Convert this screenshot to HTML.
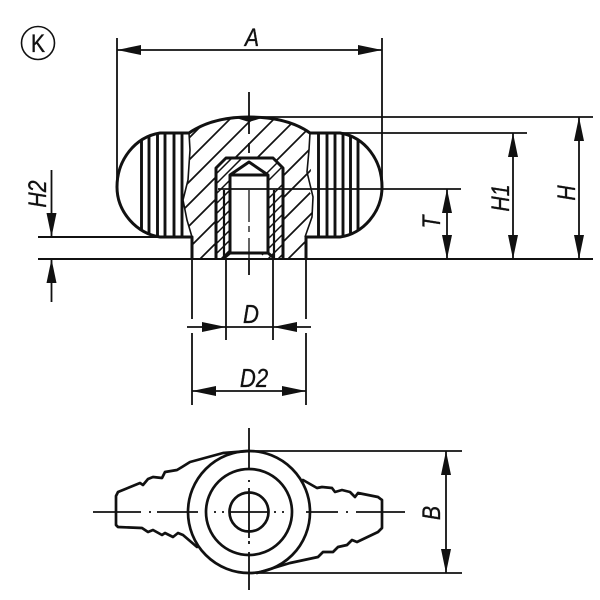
<!DOCTYPE html>
<html><head><meta charset="utf-8"><style>
html,body{margin:0;padding:0;background:#fff;width:600px;height:600px;overflow:hidden}
svg{display:block}
text{font-family:"Liberation Sans",sans-serif;font-style:italic;fill:#111;stroke:#111;stroke-width:.35}
</style></head><body>
<svg width="600" height="600" viewBox="0 0 600 600" xmlns="http://www.w3.org/2000/svg">
<defs>
<marker id="a" viewBox="0 0 24 10" refX="24" refY="5" markerWidth="24" markerHeight="10" markerUnits="userSpaceOnUse" orient="auto-start-reverse"><path d="M24 5L0 0V10Z" fill="#111"/></marker>
<clipPath id="body"><path d="M189 133C205 122 225 117 249 117C273 117 295 122 310 133L309 150L311 170L307 188L313 197L313 217L305 237V259H192V237L187 220L183 200L188 180L190 150Z M216 168V258H283V168L273 158H226Z" clip-rule="evenodd"/></clipPath>
<clipPath id="lobes"><path d="M189 133H160C135 137 117 160 117 187C117 212 137 234 160 237H192L183 200L190 150Z"/><path d="M310 133H340C365 137 382 160 382 187C382 212 363 234 340 237H305L313 197L309 150Z"/></clipPath>
<clipPath id="insert"><path d="M216 168L226 158H273L283 168V258H216Z M230 175V253H268V175L249 162Z" clip-rule="evenodd"/></clipPath>
</defs>

<!-- K mark -->
<circle cx="38" cy="43" r="16.5" fill="none" stroke="#111" stroke-width="1.6"/>
<text transform="translate(38 52) scale(.85 1)" text-anchor="middle" font-size="25" style="font-style:normal">K</text>

<!-- hatching body -->
<g clip-path="url(#body)" stroke="#111" stroke-width="1.700">
<path d="M130 175L210 95M130 197L232 95M130 219L254 95M130 241L276 95M130 263L298 95M143 272L320 95M165 272L342 95M187 272L364 95M209 272L386 95M231 272L400 103M253 272L400 125M275 272L400 147M297 272L400 169"/>
</g>
<!-- hatching insert -->
<g clip-path="url(#insert)" stroke="#111" stroke-width="1.500">
<path d="M205 175L225 155M205 185L235 155M205 195L245 155M255 185L285 155M262 187L292 157M205 205L230 180M205 215L230 190M205 225L230 200M205 235L230 210M205 245L230 220M205 255L230 230M205 265L230 240M205 275L230 250M262 205L290 177M262 215L290 187M262 225L290 197M262 235L290 207M262 245L290 217M262 255L290 227M262 265L290 237M262 275L290 247"/>
</g>
<!-- knurl -->
<g clip-path="url(#lobes)" stroke="#111" stroke-width="2.900">
<path d="M141.500 125V245M149 125V245M157.500 125V245M165 125V245M174 125V245M182 125V245M318.500 125V245M327 125V245M335 125V245M343 125V245M350.500 125V245M358 125V245"/>
</g>

<!-- outline -->
<g fill="none" stroke="#111" stroke-width="3" stroke-linejoin="round">
<path d="M192 259V237H160C137 234 117 212 117 187C117 160 135 137 160 133H189C205 122 225 117 249 117C273 117 295 122 310 133H340C365 137 382 160 382 187C382 212 363 234 340 237H306V259"/>
<path d="M216 258V168L226 158H273L283 168V258"/>
<path d="M230 253V175L249 162L268 175V253M224 258L230 253H268L274 258"/>
<path d="M230 175H268"/>
<path d="M224 258V190M274 258V190" stroke-width="2.200"/>
</g>
<g fill="none" stroke="#111" stroke-width="1.600">
<path d="M189 133L190 150L188 180L183 200L187 220L192 237"/>
<path d="M310 133L309 150L307 172L313 197L312 217L305 237"/>
</g>
<path d="M236 118H262L249 122Z" fill="#111"/>

<!-- dimension + extension lines -->
<g fill="none" stroke="#111" stroke-width="1.800">
<path d="M117 38V187M382 38V187"/>
<path d="M117 50H382" marker-start="url(#a)" marker-end="url(#a)"/>
<path d="M249 92V134M249 143V153M249 260V275"/>
<path d="M249 190V222M249 226V232M249 238V259" stroke-width="1.300"/>
<path d="M249 117H593M340 133H527M218 189H461"/>
<path d="M38 237H192M38 259H593" stroke-width="2"/>
<path d="M579 117V259" marker-start="url(#a)" marker-end="url(#a)"/>
<path d="M513 133V259" marker-start="url(#a)" marker-end="url(#a)"/>
<path d="M447 189V259" marker-start="url(#a)" marker-end="url(#a)"/>
<path d="M51.500 170V237" marker-end="url(#a)"/>
<path d="M51.500 259V302" marker-start="url(#a)"/>
<path d="M192 259V319M192 333V405M306 259V319M306 333V405M226 259V340M273 259V340"/>
<path d="M187 327H226" marker-end="url(#a)"/>
<path d="M273 327H311" marker-start="url(#a)"/>
<path d="M226 327H273"/>
<path d="M192 391H306" marker-start="url(#a)" marker-end="url(#a)"/>
<path d="M249 451H462M249 573H462"/>
<path d="M446 451V573" marker-start="url(#a)" marker-end="url(#a)"/>
</g>

<!-- labels -->
<text transform="translate(252 46) scale(.85 1)" text-anchor="middle" font-size="25">A</text>
<text transform="translate(251 323) scale(.85 1)" text-anchor="middle" font-size="26">D</text>
<text transform="translate(254 387) scale(.85 1)" text-anchor="middle" font-size="26">D2</text>
<text transform="translate(46 194) rotate(-90) scale(.85 1)" text-anchor="middle" font-size="25">H2</text>
<text transform="translate(440 222) rotate(-90) scale(.85 1)" text-anchor="middle" font-size="25">T</text>
<text transform="translate(509 198) rotate(-90) scale(.85 1)" text-anchor="middle" font-size="25">H1</text>
<text transform="translate(575 193) rotate(-90) scale(.85 1)" text-anchor="middle" font-size="25">H</text>
<text transform="translate(440 513) rotate(-90) scale(.85 1)" text-anchor="middle" font-size="25">B</text>

<!-- bottom view -->
<g fill="none" stroke="#111" stroke-width="2.700" stroke-linejoin="round" stroke-linecap="round">
<circle cx="249" cy="512" r="61"/>
<circle cx="249" cy="512" r="43"/>
<circle cx="249" cy="512" r="19.500"/>
<path d="M249 451L223 453L190 462L182 467L177 470L165 472L162 478L153 477L148 479L143 485L140 483L118 492L116 496V525L118 527L142 528L148 532L153 530L162 535L165 533L173 537L178 533L183 535L197 547"/>
<path d="M303 480L317 488L322 487L332 488L335 492L342 490L350 492L355 497L358 493L378 497L382 500V528L378 532L357 542L352 540L347 545L338 547L333 552L323 552L318 557L290 563L257 573"/>
</g>
<g fill="none" stroke="#111" stroke-width="1.800">
<path d="M93 512H141M149 512H151M157 512H198M214 512H216M222 512H224M230 512H268M274 512H276M282 512H284M306 512H338M346 512H348M356 512H405"/>
<path d="M249 428V470M249 480V482M249 488V538M249 541V544M249 552V590"/>
</g>
</svg>
</body></html>
